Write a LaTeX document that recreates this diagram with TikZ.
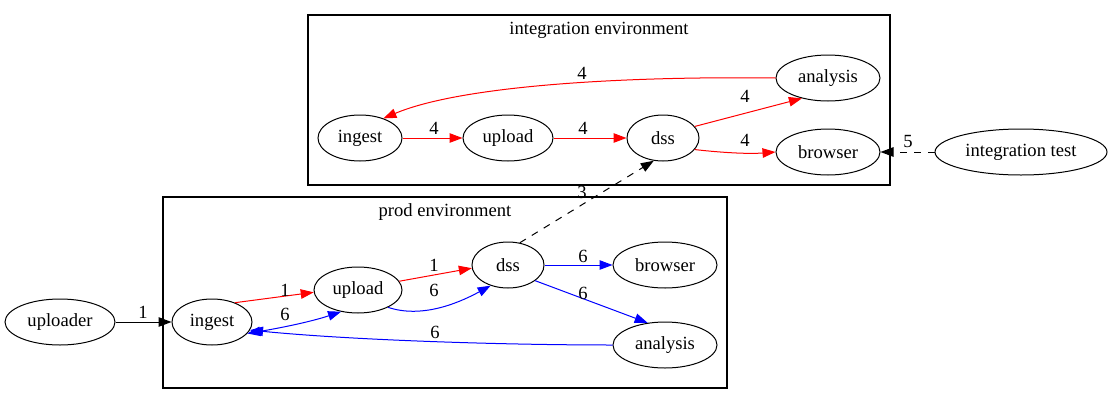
\documentclass[tikz,border=0pt]{standalone}
\usepackage{fontspec}
\setmainfont{Liberation Serif}
\usetikzlibrary{shapes.geometric,arrows.meta}
\begin{document}
\begin{tikzpicture}[x=1pt,y=-1pt,
  every node/.style={font=\fontsize{18.6}{21}\selectfont},
  nd/.style={draw,ellipse,line width=1pt,inner sep=0pt,minimum height=46pt},
  lbl/.style={inner sep=0pt},
  cl/.style={draw,line width=1.1pt},
  dsh/.style={dash pattern=on 7pt off 7pt},
  ed/.style={line width=1pt,-{Triangle[length=13pt,width=9.5pt]}},
  edb/.style={line width=1pt,{Triangle[length=13pt,width=9.5pt]}-{Triangle[length=13pt,width=9.5pt]}}]
\useasboundingbox (0,0) rectangle (1112,405);
% clusters
\draw[cl] (308,15) rectangle (890,185);
\node[lbl] (intlabel) at (599,30) {integration environment};
\draw[cl] (163,197) rectangle (727,388);
\node[lbl] (prodlabel) at (445,212) {prod environment};
% integration nodes
\node[nd,minimum width=84pt] (iingest) at (360,138) {ingest};
\node[nd,minimum width=90pt] (iupload) at (508,138) {upload};
\node[nd,minimum width=72pt] (idss) at (663,138) {dss};
\node[nd,minimum width=104pt] (ianalysis) at (828,78) {analysis};
\node[nd,minimum width=104pt] (ibrowser) at (828,152) {browser};
\node[nd,minimum width=172pt] (itest) at (1021,152) {integration test};
% prod nodes
\node[nd,minimum width=110pt] (uploader) at (60,322) {uploader};
\node[nd,minimum width=80pt] (pingest) at (212,322) {ingest};
\node[nd,minimum width=88pt] (pupload) at (358,290) {upload};
\node[nd,minimum width=72pt] (pdss) at (508,265) {dss};
\node[nd,minimum width=104pt] (pbrowser) at (665,265) {browser};
\node[nd,minimum width=104pt] (panalysis) at (665,345) {analysis};
% integration edges
\draw[ed,red] (iingest) -- (iupload) node[lbl,black] at (434,128) {4};
\draw[ed,red] (iupload) -- (idss) node[lbl,black] at (583,128) {4};
\draw[ed,red] (idss.20) -- (ianalysis.218) node[lbl,black] at (745,96) {4};
\draw[ed,red] (idss.-20) .. controls (725,153) and (750,154) .. (ibrowser.180) node[lbl,black] at (745,140) {4};
\draw[ed,red] (ianalysis.180) .. controls (620,76) and (460,86) .. (iingest.40) node[lbl,black] at (582,73) {4};
\draw[ed,dsh] (itest) -- (ibrowser) node[lbl] at (908,141) {5};
\draw[ed,dsh] (pdss.62) -- (idss.-112) node[lbl] at (582,192) {3};
% prod edges
\draw[ed] (uploader) -- (pingest) node[lbl] at (143,312) {1};
\draw[ed,red] (pingest.40) -- (pupload.183) node[lbl,black] at (285,290) {1};
\draw[edb,blue] (pingest.-18) .. controls (280,328) and (310,322) .. (pupload.-128) node[lbl,black] at (285,314) {6};
\draw[ed,red] (pupload.12) -- (pdss.185) node[lbl,black] at (434,265) {1};
\draw[ed,blue] (pupload.-30) .. controls (420,318) and (455,305) .. (pdss.-130) node[lbl,black] at (434,290) {6};
\draw[ed,blue] (pdss) -- (pbrowser) node[lbl,black] at (583,256) {6};
\draw[ed,blue] (pdss.-30) -- (panalysis.128) node[lbl,black] at (583,293) {6};
\draw[ed,blue] (panalysis.180) .. controls (500,345) and (350,340) .. (pingest.-12) node[lbl,black] at (435,332) {6};
\end{tikzpicture}
\end{document}
